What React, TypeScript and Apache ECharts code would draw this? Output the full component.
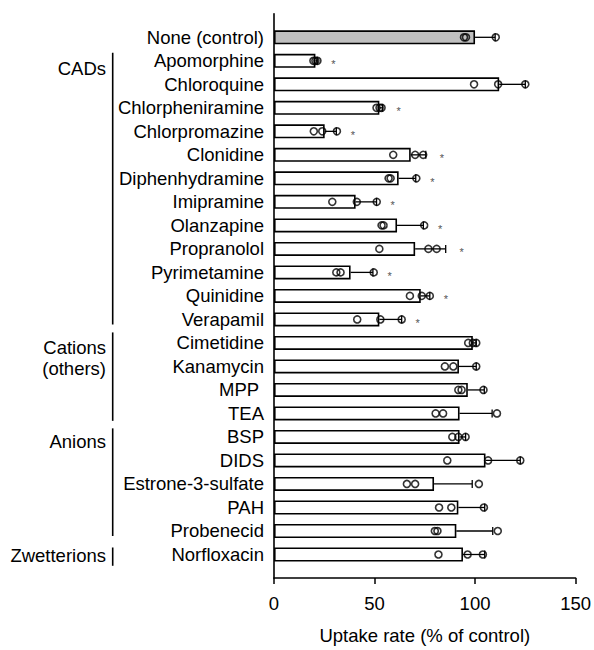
import React, { useEffect, useRef } from "react";
import * as echarts from "echarts";

const categories = [
  "None (control)", "Apomorphine", "Chloroquine", "Chlorpheniramine", "Chlorpromazine",
  "Clonidine", "Diphenhydramine", "Imipramine", "Olanzapine", "Propranolol",
  "Pyrimetamine", "Quinidine", "Verapamil", "Cimetidine", "Kanamycin", "MPP ", "TEA",
  "BSP", "DIDS", "Estrone-3-sulfate", "PAH", "Probenecid", "Norfloxacin",
];

const means = [
  100, 20.6, 112, 52.4, 25.2, 68, 62, 40.6, 61.2, 70.2, 38.1, 73, 52.4,
  98.9, 92, 96.4, 92.3, 92.3, 105.2, 79.6, 91.7, 90.7, 94,
];

const errorUpper = [
  110, 21.5, 125, 54, 31, 75.5, 70.5, 51, 74.3, 85.4, 49.2, 77.5, 63.5,
  100.6, 100.6, 104.6, 108.5, 95.3, 122.5, 98.6, 104.8, 108.8, 104.8,
];

const points = [
  [94.5, 95.5, 110.3],
  [19.6, 20.6, 21.6],
  [99.5, 111.5, 125],
  [51, 52.5, 53.5],
  [19.8, 24, 31.3],
  [59.3, 70.2, 74.2],
  [57, 58, 70.8],
  [29, 41.2, 51.1],
  [53.5, 54.5, 74.7],
  [52.4, 76.8, 80.9],
  [31, 33.1, 49.6],
  [67.6, 73.5, 77.5],
  [41.4, 52.9, 63.5],
  [96.6, 98.9, 100.6],
  [85, 89.2, 100.6],
  [91.7, 93.3, 104.2],
  [80.4, 84.1, 110.9],
  [88.7, 91.7, 95.3],
  [86.2, 106.5, 122.5],
  [66.1, 70.2, 101.9],
  [82.1, 88.2, 104.4],
  [80, 81.3, 111.3],
  [81.8, 96.3, 103.9],
];

const significant = [
  false, true, false, true, true, true, true, true, true, true, true, true, true,
  false, false, false, false, false, false, false, false, false, false,
];

const groupLabels = [["CADs"], ["Cations", "(others)"], ["Anions"], ["Zwetterions"]];
const groupStart = [1, 13, 17, 22];
const groupEnd = [12, 16, 21, 22];

const xMin = 0;
const xMax = 150;
const xInterval = 50;
const xTitle = "Uptake rate (% of control)";

// layout (pixels) for the group brackets: [top offset, bottom offset, label dy]
const groupLayout = [
  [-8, 5, 8],
  [-10.5, 7.4, 4.5],
  [-8.6, 5, 4.7],
  [-7, 11.3, 0.6],
];

const FONT = '"Liberation Sans", Arial, Helvetica, sans-serif';

export default function App() {
  const ref = useRef<HTMLDivElement>(null);

  useEffect(() => {
    document.body.style.margin = "0";
    const chart = echarts.init(ref.current!, undefined, { renderer: "svg" });
    const pos = (i: number) => i + 1;
    const yData = ["", ...categories, ""];

    const barData: any[] = ["-"];
    means.forEach((v, i) => {
      barData.push(
        i === 0
          ? { value: v, itemStyle: { color: "#c0c0c0" } }
          : v
      );
    });
    barData.push("-");

    const errData = means.map((m, i) => [
      m,
      pos(i),
      errorUpper[i],
      significant[i] ? 1 : 0,
      Math.max(...points[i]),
    ]);

    const scatterData: number[][] = [];
    points.forEach((arr, i) => arr.forEach((v) => scatterData.push([v, pos(i)])));

    const groupData = groupStart.map((s, gi) => [0, pos(s), pos(groupEnd[gi]), gi]);

    chart.setOption({
      animation: false,
      grid: { left: 274, right: 17, top: 13.8, bottom: 67, containLabel: false },
      xAxis: {
        type: "value",
        min: xMin,
        max: xMax,
        interval: xInterval,
        axisLine: { show: true, lineStyle: { color: "#000", width: 1.6 } },
        axisTick: { show: true, length: 6, lineStyle: { color: "#000", width: 1.5 } },
        axisLabel: { color: "#000", fontSize: 18.5, fontFamily: FONT, margin: 16 },
        splitLine: { show: false },
        name: xTitle,
        nameLocation: "middle",
        nameGap: 48,
        nameTextStyle: { color: "#000", fontSize: 18.5, fontFamily: FONT },
      },
      yAxis: {
        type: "category",
        data: yData,
        inverse: true,
        boundaryGap: false,
        axisLine: { show: true, lineStyle: { color: "#000", width: 1.6 } },
        axisTick: { show: false },
        axisLabel: {
          interval: 0,
          color: "#000",
          fontSize: 18.5,
          fontFamily: FONT,
          margin: 10,
        },
        splitLine: { show: false },
      },
      series: [
        {
          type: "bar",
          data: barData,
          barWidth: 14,
          itemStyle: { color: "#fff", borderColor: "#000", borderWidth: 1.6 },
          silent: true,
          z: 2,
        },
        {
          type: "custom",
          coordinateSystem: "cartesian2d",
          data: errData,
          encode: { x: [0, 2], y: 1 },
          clip: false,
          silent: true,
          z: 3,
          renderItem: (params: any, api: any) => {
            const idx = api.value(1);
            const y = api.coord([0, idx])[1];
            const x0 = api.coord([api.value(0), idx])[0];
            const x1 = api.coord([api.value(2), idx])[0];
            const xm = api.coord([Math.max(api.value(2), api.value(4)), idx])[0];
            const children: any[] = [
              {
                type: "line",
                shape: { x1: x0, y1: y, x2: x1, y2: y },
                style: { stroke: "#000", lineWidth: 1.3 },
              },
              {
                type: "line",
                shape: { x1: x1, y1: y - 4, x2: x1, y2: y + 4 },
                style: { stroke: "#000", lineWidth: 1.3 },
              },
            ];
            if (api.value(3)) {
              children.push({
                type: "text",
                x: xm + 16,
                y: y + 3.5,
                style: {
                  text: "*",
                  fontSize: 11,
                  fontFamily: FONT,
                  fill: "#555555",
                  stroke: "none",
                  align: "center",
                  verticalAlign: "middle",
                },
              });
            }
            return { type: "group", children };
          },
        },
        {
          type: "scatter",
          data: scatterData,
          symbol: "circle",
          symbolSize: 7,
          itemStyle: { color: "rgba(0,0,0,0)", borderColor: "#000", borderWidth: 1.6 },
          silent: true,
          z: 4,
        },
        {
          type: "custom",
          coordinateSystem: "cartesian2d",
          data: groupData,
          encode: { x: 0, y: [1, 2] },
          clip: false,
          silent: true,
          z: 5,
          renderItem: (params: any, api: any) => {
            const gi = api.value(3);
            const lay = groupLayout[gi];
            const xAxisPx = api.coord([0, api.value(1)])[0];
            const y1 = api.coord([0, api.value(1)])[1] + lay[0];
            const y2 = api.coord([0, api.value(2)])[1] + lay[1];
            const yl = api.coord([0, api.value(1)])[1] + lay[2];
            const bx = xAxisPx - 161.3;
            const lx = xAxisPx - 168;
            const children: any[] = [
              {
                type: "line",
                shape: { x1: bx, y1, x2: bx, y2 },
                style: { stroke: "#000", lineWidth: 1.6 },
              },
            ];
            groupLabels[gi].forEach((t, k) => {
              children.push({
                type: "text",
                x: lx,
                y: yl + k * 20.7,
                style: {
                  text: t,
                  fontSize: 18.5,
                  fontFamily: FONT,
                  fill: "#000",
                  align: "right",
                  verticalAlign: "middle",
                },
              });
            });
            return { type: "group", children };
          },
        },
      ],
    });

    return () => chart.dispose();
  }, []);

  return <div ref={ref} style={{ width: 594, height: 650 }} />;
}
